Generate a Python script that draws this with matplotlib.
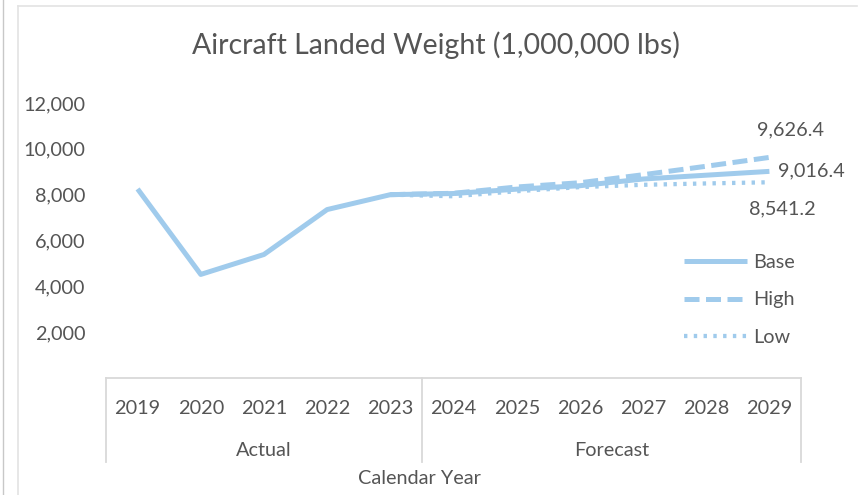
import matplotlib
matplotlib.use("Agg")
import matplotlib.pyplot as plt
from matplotlib.lines import Line2D

plt.rcParams["font.family"] = ["Lato", "DejaVu Sans"]

# ---- data -------------------------------------------------------------
years = ["2019", "2020", "2021", "2022", "2023", "2024",
         "2025", "2026", "2027", "2028", "2029"]
groups = ["Actual", "Forecast"]
group_sizes = [5, 6]

base = [8250, 4520, 5390, 7350, 8000, 8050, 8240, 8390, 8683, 8850, 9016.4]
high = [None, None, None, None, 8000, 8060, 8335, 8520, 8870, 9240, 9626.4]
low = [None, None, None, None, 8000, 7930, 8150, 8330, 8430, 8490, 8541.2]

yticks = [2000, 4000, 6000, 8000, 10000, 12000]

title = "Aircraft Landed Weight (1,000,000 lbs)"
x_title = "Calendar Year"

# ---- style ------------------------------------------------------------
W, H = 859, 495
line_c = "#a0cbec"
text_c = "#555555"
axis_c = "#d9d9d9"
lw = 3.6
fs = 14.3

fig = plt.figure(figsize=(W / 100, H / 100), dpi=100)
fig.patch.set_facecolor("white")


def fx(px):
    return px / W


def fy(py):
    return 1 - py / H


# outer frame of the chart area
fig.add_artist(Line2D([fx(3.5), fx(3.5)], [0, 1], color="#c8c8c8", lw=1.0))
fig.add_artist(Line2D([fx(17.5), fx(17.5)], [0, fy(5.5)], color="#e3e3e3", lw=1.2))
fig.add_artist(Line2D([fx(17.5), fx(857)], [fy(5.5), fy(5.5)], color="#e3e3e3", lw=1.2))

left, right, top, bottom = 106, 801, 103, 378
ax = fig.add_axes([fx(left), fy(bottom), fx(right - left), fy(top) - fy(bottom)])
ax.set_xlim(-0.5, len(years) - 0.5)
ax.set_ylim(0, 12000)
for s in ["top", "right", "left"]:
    ax.spines[s].set_visible(False)
ax.spines["bottom"].set_color(axis_c)
ax.spines["bottom"].set_linewidth(1.3)

x = list(range(len(years)))


def seg(vals):
    xs = [i for i, v in zip(x, vals) if v is not None]
    ys = [v for v in vals if v is not None]
    return xs, ys


ax.plot(*seg(base), color=line_c, lw=lw, solid_capstyle="butt",
        solid_joinstyle="round", label="Base", zorder=3)
ax.plot(*seg(high), color=line_c, lw=lw, linestyle=(0, (3.0, 1.3)),
        dash_capstyle="butt", label="High", zorder=2)
ax.plot(*seg(low), color=line_c, lw=lw * 0.85, linestyle=(0, (0.8, 1.5)),
        dash_capstyle="butt", label="Low", zorder=2)

# value labels at the last year
last = len(years) - 1
ax.annotate(f"{high[-1]:,.1f}", (last, high[-1]), xytext=(15, 14),
            textcoords="offset points", ha="center", va="bottom",
            color=text_c, fontsize=fs)
ax.annotate(f"{base[-1]:,.1f}", (last, base[-1]), xytext=(6, 0),
            textcoords="offset points", ha="left", va="center",
            color=text_c, fontsize=fs)
ax.annotate(f"{low[-1]:,.1f}", (last, low[-1]), xytext=(9, -13),
            textcoords="offset points", ha="center", va="top",
            color=text_c, fontsize=fs)

# y axis
ax.set_yticks(yticks)
ax.set_yticklabels([f"{v:,}" for v in yticks], color=text_c, fontsize=fs)
ax.tick_params(axis="y", length=0, pad=15)
ax.set_xticks([])

# multi-level category axis
trans = ax.get_xaxis_transform()
box_depth = (462 - bottom) / (bottom - top)
row1 = (bottom - 408) / (bottom - top)
row2 = (bottom - 451) / (bottom - top)
for i, yr in enumerate(years):
    ax.text(i, row1, yr, transform=trans, ha="center", va="center",
            color=text_c, fontsize=fs)
edges = [-0.5]
for n in group_sizes:
    edges.append(edges[-1] + n)
for e in edges:
    ax.add_line(Line2D([e, e], [0, -box_depth], transform=trans,
                       color=axis_c, lw=1.3, clip_on=False))
for g, a, b in zip(groups, edges[:-1], edges[1:]):
    ax.text((a + b) / 2, row2, g, transform=trans, ha="center", va="center",
            color=text_c, fontsize=fs)

fig.text(fx(419), fy(479), x_title, ha="center", va="center",
         color=text_c, fontsize=fs)
fig.text(fx(436), fy(45), title, ha="center", va="center",
         color=text_c, fontsize=20.5)

# legend
leg = ax.legend(loc="center left", bbox_to_anchor=(fx(674), fy(300)),
                bbox_transform=fig.transFigure, frameon=False,
                handlelength=3.2, handletextpad=0.3, labelspacing=1.05,
                fontsize=fs, borderpad=0)
for t in leg.get_texts():
    t.set_color(text_c)

fig.savefig("out.png", dpi=100, facecolor="white")
